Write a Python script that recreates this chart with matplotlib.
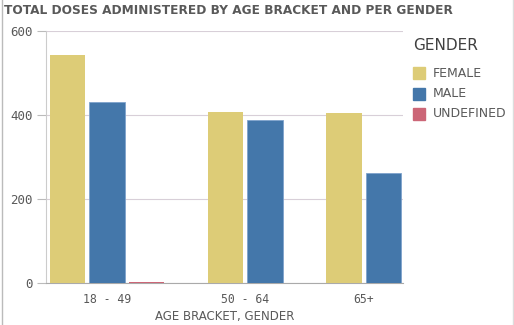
import matplotlib
matplotlib.use("Agg")
import matplotlib.pyplot as plt
from matplotlib.lines import Line2D

categories = ["18 - 49", "50 - 64", "65+"]
genders = ["FEMALE", "MALE", "UNDEFINED"]
# values per category per gender (None = absent)
female = [543, 406, 405]
male = [432, 388, 262]
undefined = [2, None, None]
colors = {"FEMALE": "#ddcc77", "MALE": "#4477aa", "UNDEFINED": "#cc6677"}
yticks = [0, 200, 400, 600]

fig = plt.figure(figsize=(5.14, 3.25), dpi=100)
ax = fig.add_axes([46/514, 1-283/325, (403-46)/514, (283-31)/325])

series = {"FEMALE": female, "MALE": male, "UNDEFINED": undefined}
slot = 0
centers = []
for ci, cat in enumerate(categories):
    slots = []
    for g in genders:
        v = series[g][ci]
        if v is None:
            continue
        ec = "#7fa3cc" if g == "MALE" else "none"
        ax.bar(slot, v, width=0.9, color=colors[g], edgecolor=ec, linewidth=0.6, zorder=3)
        slots.append(slot)
        slot += 1
    centers.append(sum(slots)/len(slots))
    slot += 1

ax.set_xlim(-0.55, 8.5)
ax.set_ylim(0, 600)
ax.set_yticks(yticks)
ax.set_yticklabels([str(t) for t in yticks], family="DejaVu Sans Mono", fontsize=9, color="#595959")
ax.set_xticks(centers)
ax.set_xticklabels(categories, family="DejaVu Sans Mono", fontsize=8.3, color="#595959")
ax.tick_params(axis="x", length=0, pad=7)
ax.tick_params(axis="y", length=6.5, color="#bbbbbb", width=0.8, pad=3)
ax.grid(axis="y", color="#d8cfd8", linewidth=0.8, zorder=0)
for s in ["top", "right"]:
    ax.spines[s].set_visible(False)
ax.spines["left"].set_color("#cccccc")
ax.spines["bottom"].set_color("#aaaaaa")
ax.set_xlabel("AGE BRACKET, GENDER", fontsize=8.5, color="#595959", labelpad=3)

fig.text(4/514, 1-10/325, "TOTAL DOSES ADMINISTERED BY AGE BRACKET AND PER GENDER",
         fontsize=8.7, fontweight="bold", color="#595959", va="center", ha="left")

fig.text(413/514, 1-46/325, "GENDER", fontsize=11, color="#404040", va="center", ha="left")
for i, g in enumerate(genders):
    y = 73 + i*20.5
    fig.patches.append(plt.Rectangle((413/514, 1-(y+6)/325), 12/514, 12/325,
                                     transform=fig.transFigure, color=colors[g], figure=fig))
    fig.text(433/514, 1-y/325, g, fontsize=9, color="#595959", va="center", ha="left")

fig.add_artist(Line2D([2/514, 2/514], [0, 1], color="#bbbbbb", lw=1, transform=fig.transFigure))
fig.add_artist(Line2D([512.5/514, 512.5/514], [0, 1], color="#dddddd", lw=1, transform=fig.transFigure))

fig.savefig("out.png", dpi=100)
